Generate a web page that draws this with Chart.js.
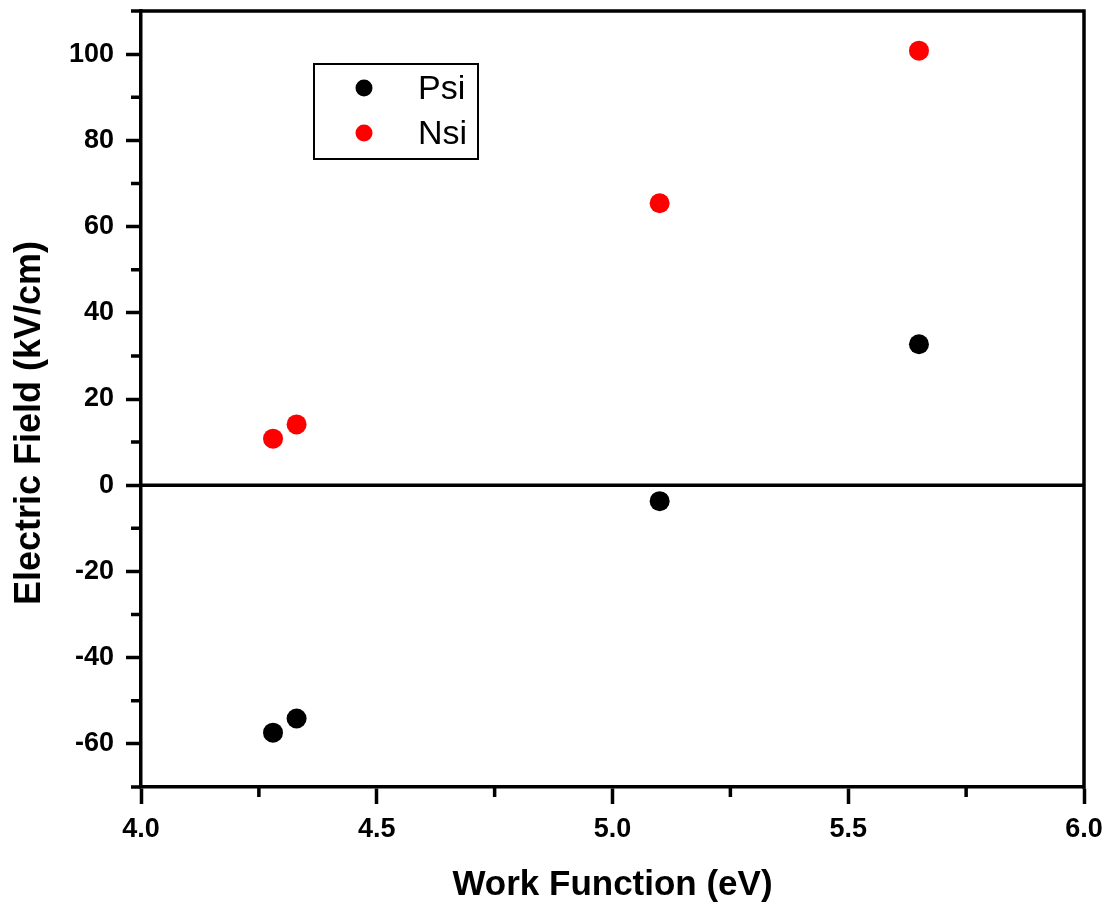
<!DOCTYPE html>
<html>
<head>
<meta charset="utf-8">
<script src="https://cdn.jsdelivr.net/npm/chart.js@4.4.0/dist/chart.umd.min.js"></script>
<style>
  html, body { margin: 0; padding: 0; background: #ffffff; }
  #wrap { width: 1111px; height: 906px; }
</style>
</head>
<body>
<div id="wrap"><canvas id="c" width="1111" height="906"></canvas></div>
<script>
// ---- data ----
const workFunction = [4.28, 4.33, 5.10, 5.65];
const psiField = [-57.4, -54.1, -3.7, 32.7];
const nsiField = [10.8, 14.1, 65.4, 100.8];
const seriesNames = ['Psi', 'Nsi'];
const seriesColors = ['#000000', '#ff0000'];
const xTitle = 'Work Function (eV)';
const yTitle = 'Electric Field (kV/cm)';
const xMin = 4.0, xMax = 6.0, xStep = 0.25, xMajor = 0.5;
const yMin = -70, yMax = 110, yStep = 10, yMajor = 20;

const FONT = '"Liberation Sans", Arial, sans-serif';
const LW = 3.5;

function isMajor(v, m) {
  const r = v / m;
  return Math.abs(r - Math.round(r)) < 1e-6;
}

const toPoints = (ys) => workFunction.map((x, i) => ({ x: x, y: ys[i] }));

const decorPlugin = {
  id: 'decor',
  afterDraw(chart) {
    const ctx = chart.ctx;
    const a = chart.chartArea;
    const xs = chart.scales.x, ys = chart.scales.y;
    ctx.save();
    ctx.strokeStyle = '#000';
    ctx.lineWidth = LW;
    ctx.lineCap = 'butt';
    // top & right frame
    ctx.beginPath();
    ctx.moveTo(a.left - LW / 2, a.top);
    ctx.lineTo(a.right, a.top);
    ctx.lineTo(a.right, a.bottom + LW / 2);
    ctx.stroke();
    // zero line
    const y0 = ys.getPixelForValue(0);
    ctx.beginPath();
    ctx.moveTo(a.left, y0);
    ctx.lineTo(a.right, y0);
    ctx.stroke();
    // minor ticks
    ctx.beginPath();
    ys.ticks.forEach(t => {
      if (!isMajor(t.value, yMajor)) {
        const p = ys.getPixelForValue(t.value);
        ctx.moveTo(a.left, p);
        ctx.lineTo(a.left - 10, p);
      }
    });
    xs.ticks.forEach(t => {
      if (!isMajor(t.value, xMajor)) {
        const p = xs.getPixelForValue(t.value);
        ctx.moveTo(p, a.bottom);
        ctx.lineTo(p, a.bottom + 10);
      }
    });
    ctx.stroke();
    // y title
    ctx.fillStyle = '#000';
    ctx.font = 'bold 36px ' + FONT;
    ctx.textAlign = 'center';
    ctx.textBaseline = 'middle';
    ctx.translate(30, 423);
    ctx.rotate(-Math.PI / 2);
    ctx.fillText(yTitle, 0, 0);
    ctx.restore();

    // legend
    ctx.save();
    const lx = 314, ly = 64, lw = 164, lh = 95;
    ctx.fillStyle = '#fff';
    ctx.fillRect(lx, ly, lw, lh);
    ctx.strokeStyle = '#000';
    ctx.lineWidth = 2;
    ctx.strokeRect(lx, ly, lw, lh);
    ctx.font = '34px ' + FONT;
    ctx.textAlign = 'left';
    ctx.textBaseline = 'middle';
    chart.data.datasets.forEach((ds, i) => {
      const cy = 88 + i * 45;
      ctx.fillStyle = ds.backgroundColor;
      ctx.beginPath();
      ctx.arc(364, cy, 8.5, 0, Math.PI * 2);
      ctx.fill();
      ctx.fillStyle = '#000';
      ctx.fillText(ds.label, 418, cy + 2);
    });
    ctx.restore();
  }
};

new Chart(document.getElementById('c'), {
  type: 'scatter',
  data: {
    datasets: [
      { label: seriesNames[0], data: toPoints(psiField), backgroundColor: seriesColors[0], borderColor: seriesColors[0], borderWidth: 0, pointRadius: 10, pointHoverRadius: 10 },
      { label: seriesNames[1], data: toPoints(nsiField), backgroundColor: seriesColors[1], borderColor: seriesColors[1], borderWidth: 0, pointRadius: 10, pointHoverRadius: 10 }
    ]
  },
  options: {
    responsive: false,
    animation: false,
    devicePixelRatio: 1,
    layout: { padding: { top: 11, right: 27, left: 0, bottom: 0 } },
    plugins: { legend: { display: false }, tooltip: { enabled: false } },
    scales: {
      x: {
        type: 'linear',
        min: xMin, max: xMax,
        afterFit(s) { s.height = 119; s.paddingLeft = 0; s.paddingRight = 0; },
        ticks: {
          stepSize: xStep,
          autoSkip: false,
          maxRotation: 0,
          color: '#000',
          padding: 9,
          font: { family: FONT, size: 27, weight: 'bold' },
          callback: (v) => isMajor(v, xMajor) ? Number(v).toFixed(1) : ''
        },
        grid: {
          drawOnChartArea: false,
          tickLength: 17,
          tickWidth: LW,
          tickColor: (c) => (c.tick && isMajor(c.tick.value, xMajor)) ? '#000' : 'rgba(0,0,0,0)'
        },
        border: { display: true, color: '#000', width: LW },
        title: {
          display: true,
          text: xTitle,
          color: '#000',
          font: { family: FONT, size: 35, weight: 'bold', lineHeight: 1.2 },
          padding: { top: 0, bottom: 0 }
        }
      },
      y: {
        type: 'linear',
        min: yMin, max: yMax,
        afterFit(s) { s.width = 141; s.paddingTop = 0; s.paddingBottom = 0; },
        ticks: {
          stepSize: yStep,
          autoSkip: false,
          color: '#000',
          padding: 12,
          font: { family: FONT, size: 27, weight: 'bold' },
          callback: (v) => isMajor(v, yMajor) ? String(v) : ''
        },
        grid: {
          drawOnChartArea: false,
          tickLength: 15,
          tickWidth: LW,
          tickColor: (c) => (c.tick && isMajor(c.tick.value, yMajor)) ? '#000' : 'rgba(0,0,0,0)'
        },
        border: { display: true, color: '#000', width: LW }
      }
    }
  },
  plugins: [decorPlugin]
});
</script>
</body>
</html>
